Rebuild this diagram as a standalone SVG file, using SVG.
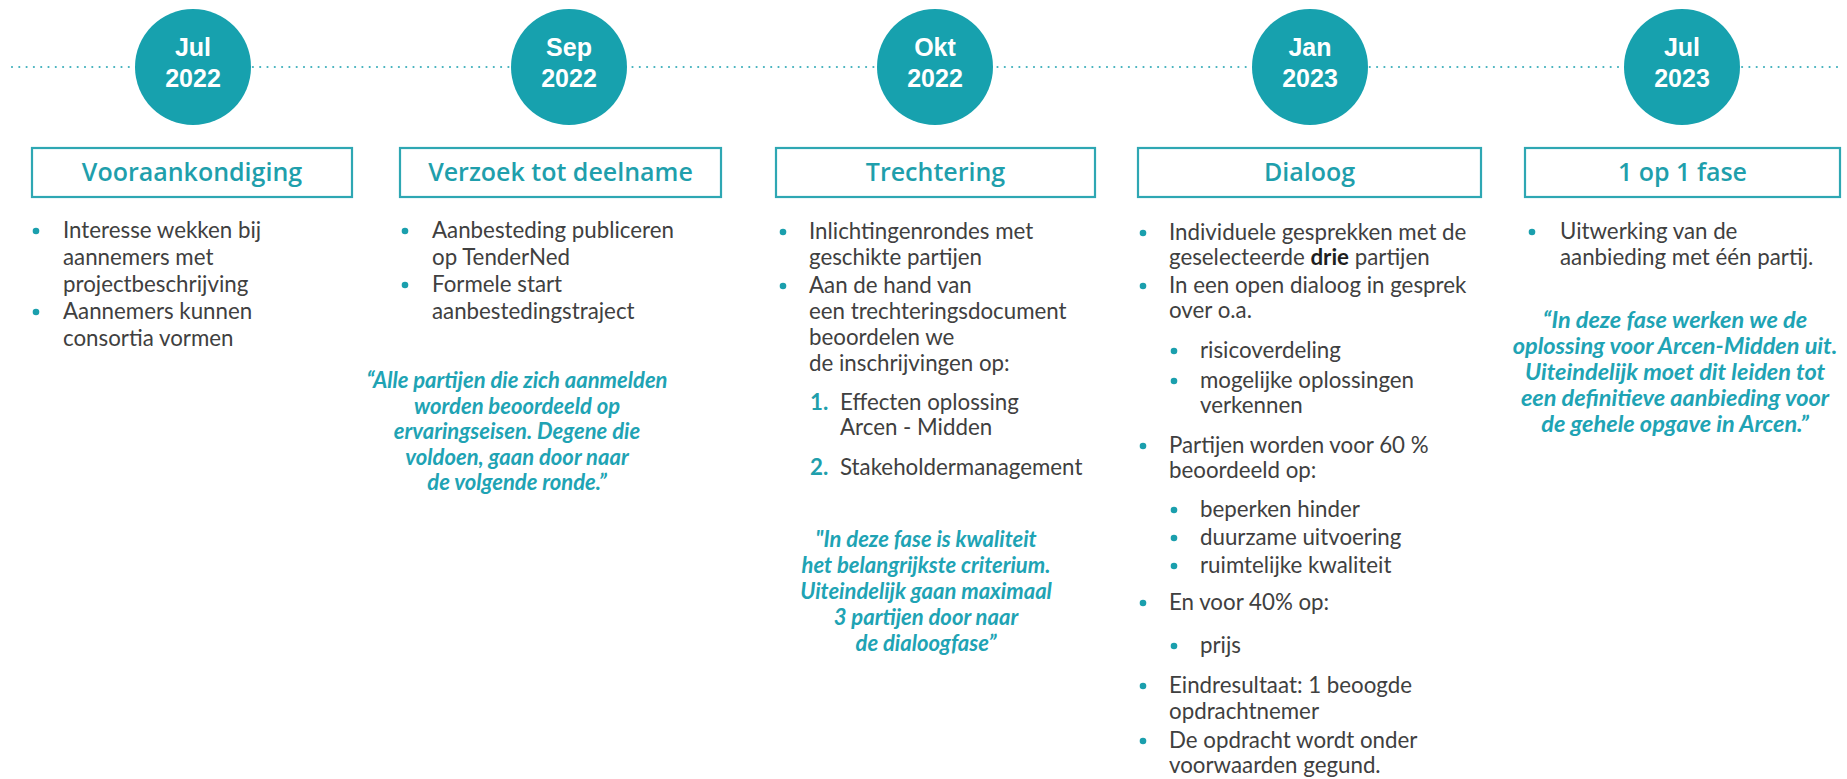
<svg xmlns="http://www.w3.org/2000/svg" width="1847" height="779" viewBox="0 0 1847 779">
<style>
  .bg{fill:#ffffff}
  .dots{stroke:#3fb0bc;stroke-width:2.2;stroke-linecap:round;stroke-dasharray:0 7.3;fill:none}
  .circ{fill:#17a1ae}
  .date{font-family:"Liberation Sans",Arial,sans-serif;font-weight:700;font-size:25px;fill:#ffffff;text-anchor:middle}
  .box{fill:#ffffff;stroke:#2ea7b3;stroke-width:2.2}
  .head{font-family:"Open Sans","Liberation Sans",sans-serif;font-weight:600;font-size:25px;fill:#1f9fac;text-anchor:middle}
  .body{font-family:Lato,"Liberation Sans",sans-serif;font-size:22.3px;fill:#404040}
  .bul{fill:#1a9fad}
  .num{font-family:Lato,"Liberation Sans",sans-serif;font-weight:700;font-size:22.3px;fill:#1f9fac}
  .b{font-weight:700;fill:#1e1e1e}
  .quote{font-family:Lato,"Liberation Sans",sans-serif;font-weight:700;font-style:italic;font-size:22px;fill:#20a3b4;text-anchor:middle}
  .q5{font-size:23.5px}
</style>
<rect class="bg" x="0" y="0" width="1847" height="779"/>

<g id="connectors">
  <line class="dots" x1="12" y1="67" x2="1842" y2="67"/>
</g>

<g id="milestone-jul-2022">
  <circle class="circ" cx="193" cy="67" r="58"/>
  <text class="date" x="193" y="56">Jul</text>
  <text class="date" x="193" y="87">2022</text>
</g>
<g id="milestone-sep-2022">
  <circle class="circ" cx="569" cy="67" r="58"/>
  <text class="date" x="569" y="56">Sep</text>
  <text class="date" x="569" y="87">2022</text>
</g>
<g id="milestone-okt-2022">
  <circle class="circ" cx="935" cy="67" r="58"/>
  <text class="date" x="935" y="56">Okt</text>
  <text class="date" x="935" y="87">2022</text>
</g>
<g id="milestone-jan-2023">
  <circle class="circ" cx="1310" cy="67" r="58"/>
  <text class="date" x="1310" y="56">Jan</text>
  <text class="date" x="1310" y="87">2023</text>
</g>
<g id="milestone-jul-2023">
  <circle class="circ" cx="1682" cy="67" r="58"/>
  <text class="date" x="1682" y="56">Jul</text>
  <text class="date" x="1682" y="87">2023</text>
</g>

<g id="phase-vooraankondiging">
  <rect class="box" x="32" y="148" width="320" height="49"/>
  <text class="head" x="192" y="181">Vooraankondiging</text>
  <circle class="bul" cx="36" cy="231" r="3.3"/>
  <text class="body" x="63" y="238">Interesse wekken bij</text>
  <text class="body" x="63" y="265">aannemers met</text>
  <text class="body" x="63" y="292">projectbeschrijving</text>
  <circle class="bul" cx="36" cy="312" r="3.3"/>
  <text class="body" x="63" y="319">Aannemers kunnen</text>
  <text class="body" x="63" y="346">consortia vormen</text>
</g>

<g id="phase-verzoek-tot-deelname">
  <rect class="box" x="400" y="148" width="321" height="49"/>
  <text class="head" x="560.5" y="181">Verzoek tot deelname</text>
  <circle class="bul" cx="405" cy="231" r="3.3"/>
  <text class="body" x="432" y="238">Aanbesteding publiceren</text>
  <text class="body" x="432" y="265">op TenderNed</text>
  <circle class="bul" cx="405" cy="285" r="3.3"/>
  <text class="body" x="432" y="292">Formele start</text>
  <text class="body" x="432" y="319">aanbestedingstraject</text>
  <text class="quote" x="517" y="388">“Alle partijen die zich aanmelden</text>
  <text class="quote" x="517" y="413.5">worden beoordeeld op</text>
  <text class="quote" x="517" y="439">ervaringseisen. Degene die</text>
  <text class="quote" x="517" y="464.5">voldoen, gaan door naar</text>
  <text class="quote" x="517" y="490">de volgende ronde.”</text>
</g>

<g id="phase-trechtering">
  <rect class="box" x="776" y="148" width="319" height="49"/>
  <text class="head" x="935.5" y="181">Trechtering</text>
  <circle class="bul" cx="783" cy="232" r="3.3"/>
  <text class="body" x="809" y="239">Inlichtingenrondes met</text>
  <text class="body" x="809" y="265">geschikte partijen</text>
  <circle class="bul" cx="783" cy="286" r="3.3"/>
  <text class="body" x="809" y="293">Aan de hand van</text>
  <text class="body" x="809" y="319">een trechteringsdocument</text>
  <text class="body" x="809" y="345">beoordelen we</text>
  <text class="body" x="809" y="371">de inschrijvingen op:</text>
  <text class="num" x="810" y="410">1.</text>
  <text class="body" x="840" y="410">Effecten oplossing</text>
  <text class="body" x="840" y="435">Arcen - Midden</text>
  <text class="num" x="810" y="475">2.</text>
  <text class="body" x="840" y="475">Stakeholdermanagement</text>
  <text class="quote" x="926" y="547">"In deze fase is kwaliteit</text>
  <text class="quote" x="926" y="573">het belangrijkste criterium.</text>
  <text class="quote" x="926" y="599">Uiteindelijk gaan maximaal</text>
  <text class="quote" x="926" y="625">3 partijen door naar</text>
  <text class="quote" x="926" y="651">de dialoogfase”</text>
</g>

<g id="phase-dialoog">
  <rect class="box" x="1138" y="148" width="343" height="49"/>
  <text class="head" x="1309.5" y="181">Dialoog</text>
  <circle class="bul" cx="1143" cy="233" r="3.3"/>
  <text class="body" x="1169" y="240">Individuele gesprekken met de</text>
  <text class="body" x="1169" y="265">geselecteerde <tspan class="b">drie</tspan> partijen</text>
  <circle class="bul" cx="1143" cy="286" r="3.3"/>
  <text class="body" x="1169" y="293">In een open dialoog in gesprek</text>
  <text class="body" x="1169" y="318">over o.a.</text>
  <circle class="bul" cx="1174" cy="351" r="3.3"/>
  <text class="body" x="1200" y="358">risicoverdeling</text>
  <circle class="bul" cx="1174" cy="381" r="3.3"/>
  <text class="body" x="1200" y="388">mogelijke oplossingen</text>
  <text class="body" x="1200" y="413">verkennen</text>
  <circle class="bul" cx="1143" cy="446" r="3.3"/>
  <text class="body" x="1169" y="453">Partijen worden voor 60 %</text>
  <text class="body" x="1169" y="478">beoordeeld op:</text>
  <circle class="bul" cx="1174" cy="510" r="3.3"/>
  <text class="body" x="1200" y="517">beperken hinder</text>
  <circle class="bul" cx="1174" cy="538" r="3.3"/>
  <text class="body" x="1200" y="545">duurzame uitvoering</text>
  <circle class="bul" cx="1174" cy="566" r="3.3"/>
  <text class="body" x="1200" y="573">ruimtelijke kwaliteit</text>
  <circle class="bul" cx="1143" cy="603" r="3.3"/>
  <text class="body" x="1169" y="610">En voor 40% op:</text>
  <circle class="bul" cx="1174" cy="646" r="3.3"/>
  <text class="body" x="1200" y="653">prijs</text>
  <circle class="bul" cx="1143" cy="686" r="3.3"/>
  <text class="body" x="1169" y="693">Eindresultaat: 1 beoogde</text>
  <text class="body" x="1169" y="719">opdrachtnemer</text>
  <circle class="bul" cx="1143" cy="741" r="3.3"/>
  <text class="body" x="1169" y="748">De opdracht wordt onder</text>
  <text class="body" x="1169" y="773">voorwaarden gegund.</text>
</g>

<g id="phase-1-op-1-fase">
  <rect class="box" x="1525" y="148" width="315" height="49"/>
  <text class="head" x="1682.5" y="181">1 op 1 fase</text>
  <circle class="bul" cx="1532" cy="232" r="3.3"/>
  <text class="body" x="1560" y="239">Uitwerking van de</text>
  <text class="body" x="1560" y="265">aanbieding met één partij.</text>
  <text class="quote q5" x="1675" y="328">“In deze fase werken we de</text>
  <text class="quote q5" x="1675" y="354">oplossing voor Arcen-Midden uit.</text>
  <text class="quote q5" x="1675" y="380">Uiteindelijk moet dit leiden tot</text>
  <text class="quote q5" x="1675" y="406">een definitieve aanbieding voor</text>
  <text class="quote q5" x="1675" y="432">de gehele opgave in Arcen.”</text>
</g>
</svg>
